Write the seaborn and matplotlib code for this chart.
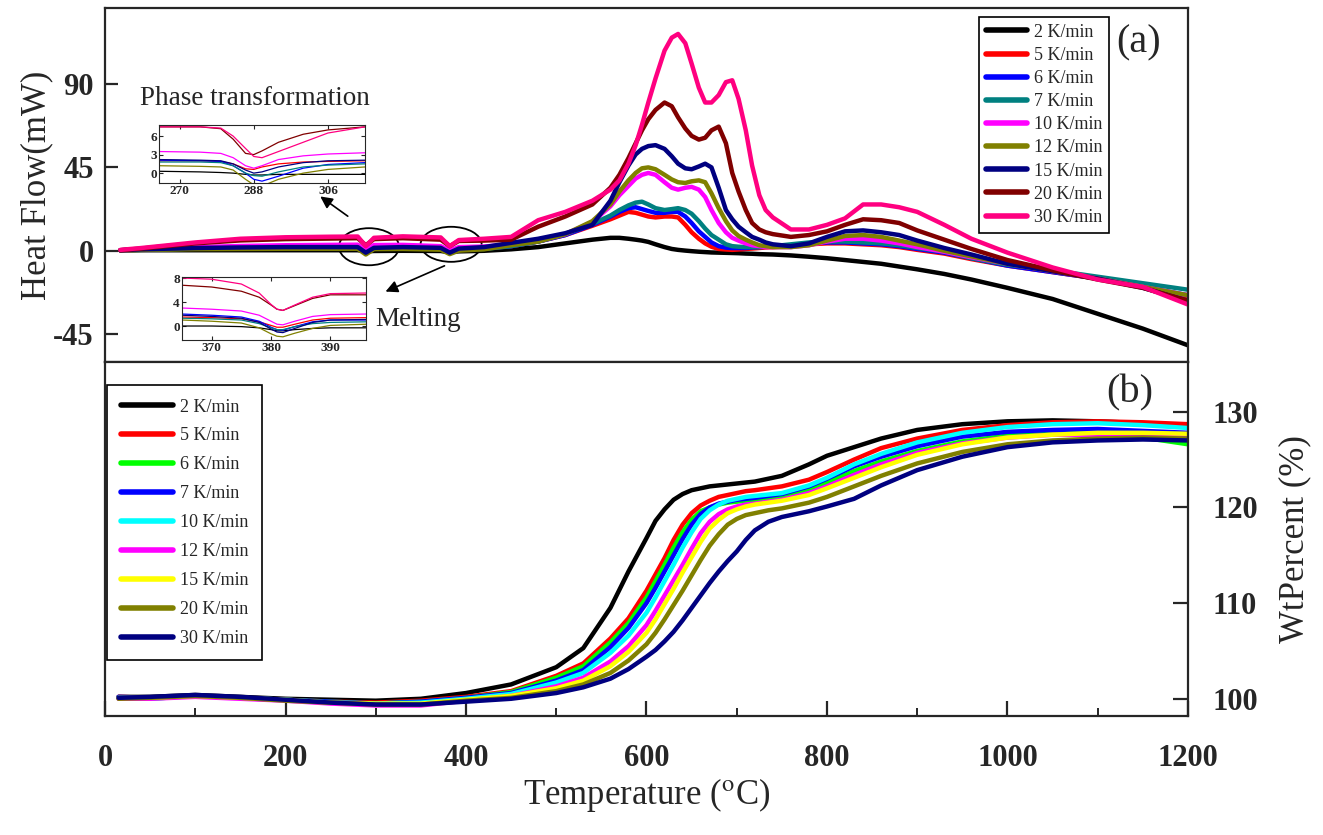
import numpy as np
import pandas as pd
import matplotlib
matplotlib.use("Agg")
import matplotlib.pyplot as plt
import seaborn as sns
from matplotlib.patches import Ellipse
from matplotlib.lines import Line2D

# ---------------- data ----------------
dsc_rates = ["2 K/min", "5 K/min", "6 K/min", "7 K/min", "10 K/min",
             "12 K/min", "15 K/min", "20 K/min", "30 K/min"]
tg_rates = ["2 K/min", "5 K/min", "6 K/min", "7 K/min", "10 K/min",
            "12 K/min", "15 K/min", "20 K/min", "30 K/min"]

dsc_colors = ["#000000", "#FF0000", "#0000FF", "#008080", "#FF00FF",
              "#808000", "#000080", "#800000", "#FF0080"]
tg_colors = ["#000000", "#FF0000", "#00FF00", "#0000FF", "#00FFFF",
             "#FF00FF", "#FFFF00", "#808000", "#000080"]

# DSC temperature grid (deg C)
dsc_T = [17, 40, 100, 150, 200, 250, 280, 289, 298, 330, 372, 382, 392, 420, 450,
         480, 510, 540, 560, 570, 580, 588, 595, 602, 610, 620, 628, 635, 643, 650,
         658, 665, 672, 680, 688, 695, 702, 710, 717, 725, 732, 740, 760, 780, 800,
         820, 840, 860, 880, 900, 930, 960, 1000, 1050, 1100, 1150, 1200]
dsc_2 = [0.2, 0.3, 0.3, 0.3, 0.3, 0.3, 0.3, -0.3, -0.1, 0, -0.1, -0.8, -0.3, 0, 0.8,
         2, 4, 6, 7, 7, 6.5, 6, 5.5, 4.8, 3.5, 2, 1, 0.5, 0.1, -0.2,
         -0.5, -0.7, -0.9, -1, -1.1, -1.2, -1.3, -1.5, -1.6, -1.8, -1.9, -2, -2.5, -3.2, -4,
         -5, -6, -7, -8.5, -10, -12.5, -15.5, -20, -26, -34, -42, -51]
dsc_5 = [0.3, 0.6, 1.3, 1.6, 1.8, 1.9, 2.0, 0.6, 2.0, 1.8, 1.2, -0.2, 1.4, 1.3, 2.5,
         5, 8.5, 13.5, 17, 19, 21, 20.5, 19.5, 18.5, 18, 18.5, 18.5, 18, 14, 10,
         6.5, 4, 2.2, 1, 0.7, 0.5, 0.7, 1, 1.2, 1.5, 1.8, 2, 2.5, 3.5, 4,
         4, 3.5, 3, 2, 0.5, -1.5, -4.5, -8, -11.5, -15, -19.5, -25]
dsc_6 = [0.3, 0.7, 1.5, 1.8, 2.0, 2.0, 2.0, -1.2, 1.6, 1.8, 1.5, -0.7, 1.0, 1.3, 2.5,
         5, 8.5, 14, 18.5, 21, 23, 23.5, 22.5, 21.5, 20.5, 20.5, 21, 21, 18.5, 15,
         10.5, 7.5, 4.5, 2.5, 1.7, 1.5, 1.5, 1.5, 1.8, 2, 2.2, 2.5, 3, 4, 4.5,
         4.5, 4, 3.5, 2.5, 1, -1, -4, -8, -11.5, -15, -19.5, -24]
dsc_7 = [0.2, 0.5, 1.2, 1.5, 1.7, 1.8, 1.8, -0.5, 1.5, 1.6, 1.0, -0.6, 0.7, 1.0, 2.5,
         5, 9, 14.5, 19, 22, 24.5, 26, 26.5, 25, 23, 22, 22.5, 23, 22, 20,
         16, 12, 8.5, 6, 3.5, 2.5, 2.2, 2, 2, 2, 2.2, 2.5, 3.5, 4.5, 5,
         5, 4.5, 4, 3, 1.5, -0.5, -4, -7.5, -10.5, -14, -17.5, -21]
dsc_10 = [0.2, 0.8, 2.0, 2.6, 3.0, 3.2, 3.3, 0.7, 3.1, 3.2, 2.5, 0.2, 2.0, 2.3, 3.5,
          5.5, 9, 15.5, 24, 30, 35, 39, 41, 42, 41, 37, 34, 33, 34, 34.5,
          33, 29, 22, 15, 10, 7, 5.5, 4, 3, 2.5, 2, 2, 2, 3, 5,
          6.5, 6.5, 5.5, 4, 2, -0.5, -3.5, -7, -11, -15, -19.5, -24]
dsc_12 = [0.2, 0.5, 0.9, 1.0, 1.1, 1.1, 1.1, -2.0, 0.9, 1.0, 0.6, -1.8, 0.1, 0.8, 3,
          5, 9, 16, 25, 32, 38, 42, 44.5, 45, 44, 41, 38.5, 37, 36.6, 37.5,
          38, 37, 31, 23, 16, 11, 8, 6, 4.5, 3, 2.5, 2, 2, 3, 5.5,
          8, 8.5, 7.5, 5.5, 3.5, 0, -3, -7, -11, -15, -19.5, -24]
dsc_15 = [0.3, 0.8, 1.5, 1.8, 2.0, 2.0, 2.0, -1.0, 1.6, 2.0, 1.6, -1.0, 1.2, 2.0, 4.3,
          6.5, 9.5, 14, 27, 37, 46, 52, 55, 56.5, 57, 55, 51, 47, 44.5, 44,
          45.5, 47, 45, 34, 22, 17, 13, 10, 7.5, 6, 4.5, 3.5, 2.5, 4, 7.5,
          10.5, 11, 10, 8.5, 5.5, 1.5, -2, -7, -11, -15, -20, -27]
dsc_20 = [0.3, 1.2, 4.0, 5.6, 6.3, 6.6, 6.8, 3.0, 6.3, 6.8, 6.0, 2.5, 5.3, 5.5, 6.0,
          13, 18.5, 25, 34, 41, 50, 58, 65, 71, 76, 80, 78, 72, 66, 62,
          60, 61, 65, 67, 58, 42, 32, 22, 15, 11.5, 10, 9, 7.5, 8.5, 10.5,
          14, 17, 16.5, 15, 11, 6, 1, -5, -10.5, -15.5, -20, -27]
dsc_30 = [0.5, 1.5, 4.5, 6.5, 7.3, 7.6, 7.7, 2.5, 7.0, 7.8, 7.2, 2.5, 5.8, 6.5, 7.5,
          16.5, 21, 27, 33, 38, 47, 57, 68, 80, 93, 108, 115, 117, 112, 101,
          88, 80, 80, 84, 91, 92, 82, 65, 46, 30, 22, 18, 11.5, 11.5, 14,
          17.5, 25, 25, 23.5, 21, 14, 6.5, -1, -9, -15.5, -19.5, -29]
dsc_values = [dsc_2, dsc_5, dsc_6, dsc_7, dsc_10, dsc_12, dsc_15, dsc_20, dsc_30]

# Phase transformation inset
phase_T = [265, 275, 280, 283, 286, 288, 290, 294, 300, 306, 315]
phase_2 = [0.3, 0.2, 0.1, 0, -0.2, -0.3, -0.3, -0.2, -0.2, -0.2, -0.2]
phase_5 = [2, 2, 1.9, 1.5, 0.7, 0.6, 1.0, 1.5, 1.8, 1.9, 2.0]
phase_6 = [2.1, 2.0, 1.9, 1.2, 0, -1, -1.3, -0.5, 0.8, 1.4, 1.7]
phase_7 = [1.8, 1.8, 1.7, 1.2, 0, -0.4, -0.5, 0.2, 1.0, 1.3, 1.5]
phase_10 = [3.5, 3.4, 3.2, 2.5, 1.2, 0.8, 1.2, 2.2, 2.8, 3.1, 3.3]
phase_12 = [1.2, 1.1, 1.0, 0.5, -1, -1.9, -2.1, -1, 0, 0.6, 1.0]
phase_15 = [2.2, 2.1, 2.0, 1.5, 0.5, 0, 0.2, 1.0, 1.7, 2.0, 2.1]
phase_20 = [7.5, 7.5, 7.2, 5.5, 3.2, 3, 3.6, 5, 6.3, 7, 7.5]
phase_30 = [7.5, 7.5, 7.3, 6, 4, 2.7, 2.5, 3.5, 5, 6.5, 7.5]
phase_values = [phase_2, phase_5, phase_6, phase_7, phase_10, phase_12,
                phase_15, phase_20, phase_30]

# Melting inset
melt_T = [365, 370, 375, 378, 380, 381, 382, 384, 387, 390, 396]
melt_2 = [0, 0, -0.1, -0.3, -0.6, -0.8, -0.8, -0.6, -0.4, -0.3, -0.3]
melt_5 = [1.5, 1.4, 1.2, 0.7, 0.1, -0.2, -0.2, 0.3, 1.0, 1.3, 1.4]
melt_6 = [2, 1.8, 1.5, 0.8, -0.2, -0.6, -0.7, -0.1, 0.7, 1.0, 1.0]
melt_7 = [1.3, 1.2, 1.0, 0.4, -0.3, -0.6, -0.6, -0.1, 0.4, 0.6, 0.7]
melt_10 = [3, 2.8, 2.5, 1.8, 0.8, 0.3, 0.2, 0.8, 1.6, 1.9, 2.0]
melt_12 = [1, 0.8, 0.5, -0.3, -1.3, -1.7, -1.8, -1.2, -0.4, 0.1, 0.3]
melt_15 = [1.8, 1.6, 1.3, 0.6, -0.5, -1.0, -1.1, -0.4, 0.6, 1.0, 1.1]
melt_20 = [6.8, 6.5, 5.8, 4.8, 3.5, 2.8, 2.6, 3.4, 4.6, 5.2, 5.2]
melt_30 = [8, 7.8, 7, 5.5, 3.6, 2.8, 2.6, 3.5, 4.8, 5.4, 5.5]
melt_values = [melt_2, melt_5, melt_6, melt_7, melt_10, melt_12,
               melt_15, melt_20, melt_30]

# TG (weight percent) temperature grid
tg_T = [15, 50, 100, 150, 200, 250, 300, 350, 400, 450, 500, 530, 560, 580, 600,
        610, 620, 630, 640, 650, 660, 670, 680, 690, 700, 710, 720, 735, 750,
        780, 800, 830, 860, 900, 950, 1000, 1050, 1100, 1150, 1200]
tg_2 = [100.2, 100.2, 100.4, 100.2, 100.0, 99.9, 99.8, 100.0, 100.6, 101.5, 103.3,
        105.3, 109.5, 113.3, 116.8,
        118.6, 119.8, 120.8, 121.4, 121.8, 122.0, 122.2, 122.3, 122.4, 122.5, 122.6, 122.7, 123.0, 123.3,
        124.5, 125.4, 126.3, 127.2, 128.1, 128.7, 129.0, 129.1, 129.0, 128.8, 128.6]
tg_5 = [100.2, 100.1, 100.3, 100.1, 99.9, 99.7, 99.6, 99.8, 100.2, 100.8, 102.4,
        103.7, 106.3, 108.4, 111.3,
        113.0, 114.7, 116.6, 118.2, 119.4, 120.2, 120.7, 121.1, 121.3, 121.5, 121.7, 121.8, 122.0, 122.2,
        122.9, 123.7, 125.0, 126.2, 127.2, 128.1, 128.6, 128.9, 129.0, 128.9, 128.7]
tg_6 = [100.1, 100.0, 100.3, 100.1, 99.9, 99.7, 99.5, 99.7, 100.1, 100.7, 102.2,
        103.4, 105.9, 107.9, 110.6,
        112.3, 114.0, 115.8, 117.4, 118.7, 119.6, 120.0, 120.3, 120.5, 120.6, 120.7, 120.8, 121.0, 121.2,
        121.8, 122.6, 123.8, 124.8, 125.9, 126.9, 127.5, 127.8, 127.8, 127.3, 126.6]
tg_7 = [100.2, 100.1, 100.3, 100.1, 99.9, 99.7, 99.5, 99.7, 100.1, 100.6, 101.9,
        103.0, 105.4, 107.4, 110.0,
        111.6, 113.3, 115.0, 116.7, 118.2, 119.3, 120.0, 120.4, 120.6, 120.8, 120.9, 121.0, 121.2, 121.4,
        122.2, 123.0, 124.3, 125.3, 126.4, 127.4, 127.9, 128.1, 128.2, 128.0, 127.8]
tg_10 = [100.1, 100.0, 100.3, 100.1, 99.9, 99.6, 99.5, 99.6, 100.0, 100.5, 101.7,
         102.7, 104.8, 106.6, 109.0,
         110.6, 112.3, 114.0, 115.8, 117.4, 118.8, 119.7, 120.3, 120.7, 120.9, 121.1, 121.2, 121.35, 121.5,
         122.3, 123.1, 124.5, 125.6, 126.8, 127.8, 128.4, 128.7, 128.8, 128.6, 128.3]
tg_12 = [100.0, 100.0, 100.2, 100.0, 99.8, 99.5, 99.3, 99.3, 99.8, 100.3, 101.3,
         102.2, 103.9, 105.5, 107.7,
         109.2, 110.8, 112.4, 114.0, 115.7, 117.3, 118.5, 119.3, 119.8, 120.1, 120.3, 120.4, 120.6, 120.8,
         121.5, 122.2, 123.4, 124.5, 125.7, 126.7, 127.3, 127.6, 127.6, 127.5, 127.3]
tg_15 = [100.1, 100.1, 100.3, 100.1, 99.9, 99.6, 99.5, 99.5, 99.9, 100.3, 101.1,
         101.9, 103.4, 104.9, 106.9,
         108.3, 109.9, 111.5, 113.2, 114.8, 116.4, 117.8, 118.7, 119.4, 119.8, 120.1, 120.3, 120.5, 120.7,
         121.3, 122.0, 123.1, 124.2, 125.5, 126.6, 127.3, 127.6, 127.8, 127.8, 127.7]
tg_20 = [100.0, 100.1, 100.3, 100.1, 99.8, 99.6, 99.4, 99.4, 99.8, 100.1, 100.8,
         101.5, 102.7, 104.0, 105.7,
         106.9, 108.3, 109.8, 111.3, 112.9, 114.5, 116.0, 117.2, 118.2, 118.8, 119.2, 119.4, 119.7, 119.9,
         120.5, 121.1, 122.2, 123.3, 124.6, 125.8, 126.6, 127.0, 127.2, 127.3, 127.2]
tg_30 = [100.1, 100.2, 100.4, 100.2, 99.9, 99.6, 99.4, 99.4, 99.7, 100.0, 100.6,
         101.2, 102.1, 103.1, 104.4,
         105.1, 106.0, 107.0, 108.2, 109.5, 110.8, 112.1, 113.3, 114.4, 115.4, 116.6, 117.6, 118.5, 119.0,
         119.6, 120.1, 120.9, 122.3, 123.9, 125.3, 126.3, 126.8, 127.0, 127.1, 127.0]
tg_values = [tg_2, tg_5, tg_6, tg_7, tg_10, tg_12, tg_15, tg_20, tg_30]

x_ticks = [0, 200, 400, 600, 800, 1000, 1200]
dsc_yticks = [-45, 0, 45, 90]
tg_yticks = [100, 110, 120, 130]


def long_frame(T, series, names):
    rows = []
    for name, vals in zip(names, series):
        for t, v in zip(T, vals):
            rows.append((name, t, v))
    return pd.DataFrame(rows, columns=["rate", "T", "val"])


df_dsc = long_frame(dsc_T, dsc_values, dsc_rates)
df_phase = long_frame(phase_T, phase_values, dsc_rates)
df_melt = long_frame(melt_T, melt_values, dsc_rates)
df_tg = long_frame(tg_T, tg_values, tg_rates)

# ---------------- style ----------------
sns.set_style("ticks")
plt.rcParams["font.family"] = ["Liberation Serif", "DejaVu Serif"]
plt.rcParams["mathtext.fontset"] = "stix"
plt.rcParams["axes.linewidth"] = 1.6
plt.rcParams["axes.unicode_minus"] = False

fig = plt.figure(figsize=(13.23, 8.35), dpi=100)
L, W = 105 / 1323, 1083 / 1323
ax1 = fig.add_axes([L, 1 - 362 / 835, W, 354 / 835])
ax2 = fig.add_axes([L, 1 - 716 / 835, W, 354 / 835])

dsc_pal = dict(zip(dsc_rates, dsc_colors))
tg_pal = dict(zip(tg_rates, tg_colors))

line_kw = dict(estimator=None, sort=False, legend=False)
sns.lineplot(data=df_dsc, x="T", y="val", hue="rate", palette=dsc_pal,
             hue_order=dsc_rates, lw=3.2, ax=ax1, **line_kw)
sns.lineplot(data=df_tg, x="T", y="val", hue="rate", palette=tg_pal,
             hue_order=tg_rates, lw=3.2, ax=ax2, **line_kw)
for ln in ax1.get_lines() + ax2.get_lines():
    ln.set_solid_joinstyle("round")

# --- top axes formatting
ax1.set_xlim(0, 1200)
ax1.set_ylim(-60, 131)
ax1.set_yticks(dsc_yticks)
ax1.set_xticks([])
ax1.set_xlabel("")
ax1.set_ylabel("Heat Flow(mW)", fontsize=25, labelpad=0)
ax1.tick_params(axis="y", direction="in", length=9, width=1.6, labelsize=22, pad=8)
for lab in ax1.get_yticklabels():
    lab.set_fontweight("bold")

# --- bottom axes formatting
ax2.set_xlim(0, 1200)
ax2.set_ylim(98.2, 135.2)
ax2.set_xticks(x_ticks)
ax2.set_xticks(np.arange(100, 1200, 200), minor=True)
ax2.set_yticks(tg_yticks)
ax2.yaxis.tick_right()
ax2.yaxis.set_label_position("right")
ax2.set_ylabel("WtPercent (%)", fontsize=25, labelpad=14)
ax2.set_xlabel("Temperature ($^{\\mathrm{o}}$C)", fontsize=25, labelpad=2)
ax2.tick_params(axis="x", which="major", direction="in", length=11, width=1.6,
                labelsize=22, pad=20)
ax2.tick_params(axis="x", which="minor", direction="in", length=6, width=1.4)
ax2.tick_params(axis="y", direction="in", length=11, width=1.6, labelsize=22,
                pad=18, left=False, right=True)
for lab in ax2.get_yticklabels() + ax2.get_xticklabels():
    lab.set_fontweight("bold")

# --- legends
h_dsc = [Line2D([0], [0], color=c, lw=4) for c in dsc_colors]
leg1 = ax1.legend(h_dsc, dsc_rates, loc="upper left", bbox_to_anchor=(0.807, 0.975),
                  fontsize=13, frameon=True, fancybox=False, edgecolor="black",
                  framealpha=1, handlelength=2.3, labelspacing=0.34,
                  handletextpad=0.35, borderpad=0.38, borderaxespad=0)
leg1.get_frame().set_linewidth(1.2)
h_tg = [Line2D([0], [0], color=c, lw=4) for c in tg_colors]
leg2 = ax2.legend(h_tg, tg_rates, loc="upper left", bbox_to_anchor=(0.002, 0.935),
                  fontsize=13, frameon=True, fancybox=False, edgecolor="black",
                  framealpha=1, handlelength=2.9, labelspacing=0.66,
                  handletextpad=0.4, borderpad=0.75, borderaxespad=0)
leg2.get_frame().set_linewidth(1.2)

ax1.text(0.954, 0.90, "(a)", transform=ax1.transAxes, fontsize=29,
         ha="center", va="center")
ax2.text(0.946, 0.912, "(b)", transform=ax2.transAxes, fontsize=29,
         ha="center", va="center")

# --- annotations (ellipses, arrows, texts)
ax1.add_patch(Ellipse((292.5, 2.2), 66.5, 20, fill=False, ec="black", lw=1.3))
ax1.add_patch(Ellipse((383.5, 3.5), 67.6, 18.9, fill=False, ec="black", lw=1.3))
ax1.annotate("", xy=(236, 30.2), xytext=(271.5, 17.8),
             arrowprops=dict(arrowstyle="-|>", color="black", lw=1.2,
                             mutation_scale=18))
ax1.annotate("", xy=(308, -22.6), xytext=(379, -7.5),
             arrowprops=dict(arrowstyle="-|>", color="black", lw=1.2,
                             mutation_scale=18))
ax1.text(38.8, 82.4, "Phase transformation", fontsize=19.5, ha="left", va="center")
ax1.text(299, -37, "Melting", fontsize=19.5, ha="left", va="center")

# --- insets
axp = fig.add_axes([159 / 1323, 1 - 183 / 835, 206 / 1323, 58 / 835])
sns.lineplot(data=df_phase, x="T", y="val", hue="rate", palette=dsc_pal,
             hue_order=dsc_rates, lw=0.9, ax=axp, **line_kw)
axp.set_xlim(265, 315)
axp.set_ylim(-1.6, 7.8)
axp.set_xticks([270, 288, 306])
axp.set_yticks([0, 3, 6])

axm = fig.add_axes([182 / 1323, 1 - 340 / 835, 184 / 1323, 63 / 835])
sns.lineplot(data=df_melt, x="T", y="val", hue="rate", palette=dsc_pal,
             hue_order=dsc_rates, lw=0.9, ax=axm, **line_kw)
axm.set_xlim(365, 396)
axm.set_ylim(-2.33, 8.17)
axm.set_xticks([370, 380, 390])
axm.set_yticks([0, 4, 8])

for a in (axp, axm):
    a.set_xlabel("")
    a.set_ylabel("")
    for s in a.spines.values():
        s.set_linewidth(0.8)
    a.tick_params(direction="in", length=3, width=0.8, labelsize=9.5, pad=1.5,
                  top=True, right=True)
    for lab in a.get_xticklabels() + a.get_yticklabels():
        lab.set_fontweight("bold")

fig.savefig("out.png", dpi=100)
